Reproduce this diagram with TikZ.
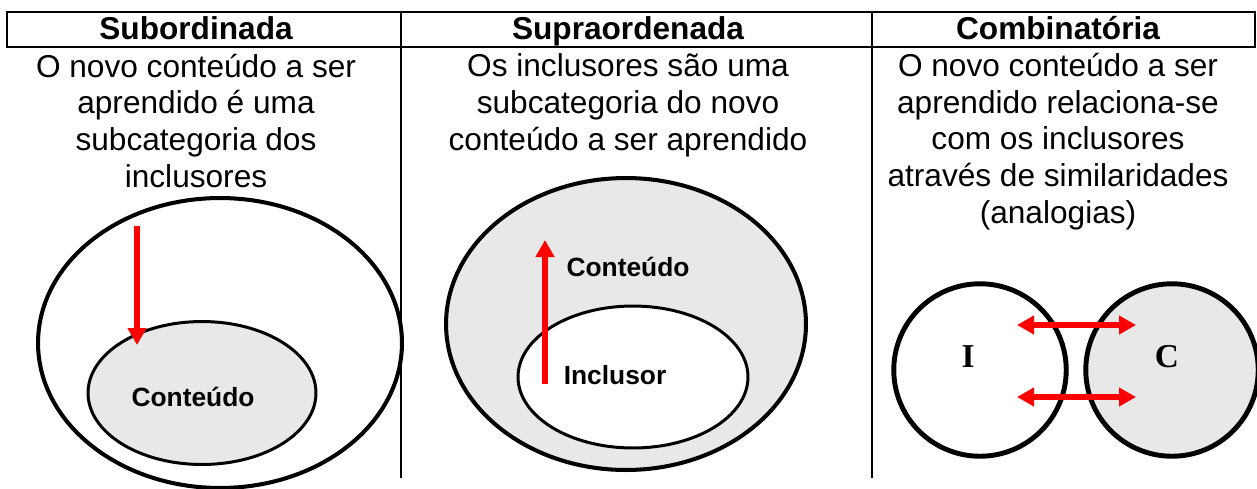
\documentclass[tikz,border=0pt]{standalone}
\usepackage{fontspec}
\setmainfont{Liberation Sans}
\newfontfamily\timesfont{Liberation Serif}
\usetikzlibrary{shapes.geometric,arrows.meta}
\definecolor{lightfill}{HTML}{E8E8E8}

\begin{document}
\begin{tikzpicture}[
  x=0.02cm, y=-0.02cm,
  head/.style={font=\fontsize{18}{20.8}\selectfont\bfseries, anchor=base},
  desc/.style={font=\fontsize{18}{20.8}\selectfont, align=center, anchor=base},
  outer/.style={draw, ellipse, line width=2.3pt, inner sep=0pt},
  inner/.style={draw, ellipse, line width=1.7pt, inner sep=0pt},
  ring/.style={draw, circle, line width=2.8pt, inner sep=0pt, minimum size=3.45cm},
  lbl/.style={font=\fontsize{15}{18}\selectfont\bfseries},
  letter/.style={font=\fontsize{19}{22}\timesfont\bfseries},
  arrow/.style={-{Triangle[width=0.36cm,length=0.34cm]}, line width=3.4pt, red},
  dblarrow/.style={{Triangle[width=0.36cm,length=0.34cm]}-{Triangle[width=0.36cm,length=0.34cm]}, line width=3.4pt, red},
  rule/.style={line width=1.1pt}
]
\useasboundingbox (0,0) rectangle (1257,488);

% Table frame
\draw[rule] (7,12) rectangle (1255,47);
\foreach \x in {401, 872}
  \draw[rule] (\x,12) -- (\x,478);

% Headers
\node[head] (hsub) at (196,39) {Subordinada};
\node[head] (hsup) at (628,39) {Supraordenada};
\node[head] (hcomb) at (1058,39) {Combinatória};

% Descriptions (anchored at the last line)
\node[desc] (dsub) at (196,187) {O novo conteúdo a ser\\aprendido é uma\\subcategoria dos\\inclusores};
\node[desc] (dsup) at (628,150) {Os inclusores são uma\\subcategoria do novo\\conteúdo a ser aprendido};
\node[desc] (dcomb) at (1058,223) {O novo conteúdo a ser\\aprendido relaciona-se\\com os inclusores\\através de similaridades\\(analogias)};

% Subordinada
\node[outer, minimum width=7.28cm, minimum height=5.8cm] (sout) at (220,343) {};
\node[inner, fill=lightfill, minimum width=4.56cm, minimum height=2.86cm] (sin) at (202,393) {};
\node[lbl] (scont) at (193,397) {Conteúdo};
\coordinate (sa) at (137,226);
\coordinate (sb) at (137,345);
\draw[arrow] (sa) -- (sb);

% Supraordenada
\node[outer, fill=lightfill, minimum width=7.2cm, minimum height=5.84cm] (pout) at (626,324) {};
\node[inner, fill=white, minimum width=4.6cm, minimum height=2.84cm] (pin) at (633,377) {};
\node[lbl] (pcont) at (628,267) {Conteúdo};
\node[lbl] (pincl) at (615,375) {Inclusor};
\coordinate (pa) at (545,384);
\coordinate (pb) at (545,240);
\draw[arrow] (pa) -- (pb);

% Combinatoria
\node[ring] (ci) at (980,370) {};
\node[ring, fill=lightfill] (cc) at (1172,370) {};
\node[letter] (li) at (968,357) {I};
\node[letter] (lc) at (1167,357) {C};
\coordinate (ua) at (1017,325);
\coordinate (ub) at (1136,325);
\coordinate (da) at (1017,397);
\coordinate (db) at (1136,397);
\draw[dblarrow] (ua) -- (ub);
\draw[dblarrow] (da) -- (db);

\end{tikzpicture}
\end{document}
